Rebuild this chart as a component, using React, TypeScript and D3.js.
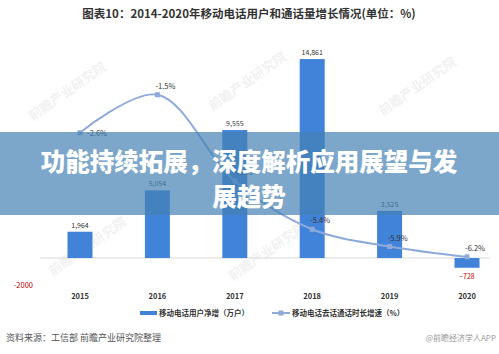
import React, {useEffect, useRef} from "react";
import * as d3 from "d3";

const years = ["2015", "2016", "2017", "2018", "2019", "2020"];
const netAdds = [1964, 5054, 9555, 14861, 3525, -728];
const callGrowth = [-2.6, -1.5, -4.0, -5.4, -5.9, -6.2];

const W = 499;
const H = 354;
const FONT = "'Noto Sans CJK SC', 'Microsoft YaHei', sans-serif";
const BAR = "#4283da";
const LINE = "#8eaadb";

const App: React.FC = () => {
	const svgRef = useRef<SVGSVGElement>(null);

	useEffect(() => {
		const svg = d3.select(svgRef.current);
		svg.selectAll("*").remove();

		svg.append("rect").attr("width", W).attr("height", H).attr("fill", "#fff");

		// Title
		svg
			.append("text")
			.attr("x", 249)
			.attr("y", 18)
			.attr("text-anchor", "middle")
			.style("font-family", FONT)
			.style("font-size", "11.5px")
			.style("font-weight", "bold")
			.style("fill", "#333")
			.text("图表10：2014-2020年移动电话用户和通话量增长情况(单位：%)");

		// faint watermarks
		const marks = [
			[70, 95],
			[250, 85],
			[420, 90],
			[90, 250],
			[270, 255],
		];
		marks.forEach(([mx, my]) => {
			svg
				.append("text")
				.attr("transform", `translate(${mx},${my}) rotate(-35)`)
				.attr("text-anchor", "middle")
				.style("font-family", FONT)
				.style("font-size", "13px")
				.style("font-weight", "bold")
				.style("fill", "#000")
				.style("opacity", 0.05)
				.text("前瞻产业研究院");
		});

		const x = d3.scalePoint<string>().domain(years).range([80, 467]);
		const y = d3.scaleLinear().domain([-2000, 16000]).range([284.8, 43.8]);
		const y2 = d3.scaleLinear().domain([-7, 0]).range([43 + 7 * 34.5, 43]);
		const barW = 25;

		// zero line
		svg
			.append("line")
			.attr("x1", 40)
			.attr("x2", 490)
			.attr("y1", y(0))
			.attr("y2", y(0))
			.attr("stroke", "#d9d9d9")
			.attr("stroke-width", 1);

		// left axis: only -2000 label shown
		svg
			.append("text")
			.attr("x", 33)
			.attr("y", y(-2000) + 3)
			.attr("text-anchor", "end")
			.style("font-family", FONT)
			.style("font-size", "7.5px")
			.style("fill", "#c00000")
			.text("-2000");

		// bars
		svg
			.selectAll(".bar")
			.data(netAdds)
			.enter()
			.append("rect")
			.attr("x", (_, i) => (x(years[i]) as number) - barW / 2)
			.attr("y", (d) => y(Math.max(0, d)))
			.attr("width", barW)
			.attr("height", (d) => Math.abs(y(d) - y(0)))
			.attr("fill", BAR);

		svg
			.selectAll(".barlabel")
			.data(netAdds)
			.enter()
			.append("text")
			.attr("x", (_, i) => x(years[i]) as number)
			.attr("y", (d) => (d >= 0 ? y(d) - 4 : y(d) + 11))
			.attr("text-anchor", "middle")
			.style("font-family", FONT)
			.style("font-size", "7px")
			.style("fill", (d) => (d >= 0 ? "#333" : "#c00000"))
			.text((d) => d3.format(",")(d));

		// x labels
		svg
			.selectAll(".xl")
			.data(years)
			.enter()
			.append("text")
			.attr("x", (d) => x(d) as number)
			.attr("y", 299)
			.attr("text-anchor", "middle")
			.style("font-family", FONT)
			.style("font-size", "7.5px")
			.style("font-weight", "bold")
			.style("fill", "#333")
			.text((d) => d);

		// line
		const line = d3
			.line<number>()
			.x((_, i) => x(years[i]) as number)
			.y((d) => y2(d))
			.curve(d3.curveCatmullRom.alpha(0.5));

		svg
			.append("path")
			.datum(callGrowth)
			.attr("d", line)
			.attr("fill", "none")
			.attr("stroke", LINE)
			.attr("stroke-width", 2);

		svg
			.selectAll(".pt")
			.data(callGrowth)
			.enter()
			.append("rect")
			.attr("x", (_, i) => (x(years[i]) as number) - 2.5)
			.attr("y", (d) => y2(d) - 2.5)
			.attr("width", 5)
			.attr("height", 5)
			.attr("fill", LINE);

		svg
			.selectAll(".ptlabel")
			.data(callGrowth)
			.enter()
			.append("text")
			.attr("x", (_, i) => (x(years[i]) as number) + (i === 0 ? 17 : 8))
			.attr("y", (d, i) => y2(d) + (i === 0 ? 3 : -6))
			.attr("text-anchor", "middle")
			.style("font-family", FONT)
			.style("font-size", "7.5px")
			.style("fill", "#333")
			.text((d) => `${d.toFixed(1)}%`);

		// legend
		const lg = svg.append("g").attr("transform", "translate(0,313)");
		lg.append("rect").attr("x", 140).attr("y", -2).attr("width", 17).attr("height", 4).attr("fill", BAR);
		lg
			.append("text")
			.attr("x", 159)
			.attr("y", 3)
			.style("font-family", FONT)
			.style("font-size", "7.5px")
			.style("font-weight", "bold")
			.style("fill", "#333")
			.text("移动电话用户净增（万户）");
		lg.append("line").attr("x1", 272).attr("x2", 290).attr("y1", 0).attr("y2", 0).attr("stroke", LINE).attr("stroke-width", 2);
		lg.append("rect").attr("x", 278.5).attr("y", -2.5).attr("width", 5).attr("height", 5).attr("fill", LINE);
		lg
			.append("text")
			.attr("x", 292)
			.attr("y", 3)
			.style("font-family", FONT)
			.style("font-size", "7.5px")
			.style("font-weight", "bold")
			.style("fill", "#333")
			.text("移动电话去话通话时长增速（%）");

		// footer
		svg
			.append("text")
			.attr("x", 6)
			.attr("y", 341)
			.style("font-family", FONT)
			.style("font-size", "9px")
			.style("fill", "#555")
			.text("资料来源：工信部 前瞻产业研究院整理");
		svg
			.append("text")
			.attr("x", 496)
			.attr("y", 341)
			.attr("text-anchor", "end")
			.style("font-family", FONT)
			.style("font-size", "8px")
			.style("fill", "#999")
			.text("@前瞻经济学人APP");

		// overlay banner
		svg
			.append("rect")
			.attr("x", 0)
			.attr("y", 132)
			.attr("width", W)
			.attr("height", 83)
			.attr("fill", "rgb(70,130,180)")
			.attr("opacity", 0.7);
		const banner = ["功能持续拓展，深度解析应用展望与发", "展趋势"];
		banner.forEach((t, i) => {
			svg
				.append("text")
				.attr("x", 249)
				.attr("y", 171 + i * 35)
				.attr("text-anchor", "middle")
				.style("font-family", FONT)
				.style("font-size", "24.5px")
				.style("font-weight", "900")
				.style("fill", "#fff")
				.text(t);
		});
	}, []);

	return (
		<div style={{position: "absolute", left: 0, top: 0}}>
			<svg ref={svgRef} width={W} height={H} style={{display: "block"}} />
		</div>
	);
};

export default App;
